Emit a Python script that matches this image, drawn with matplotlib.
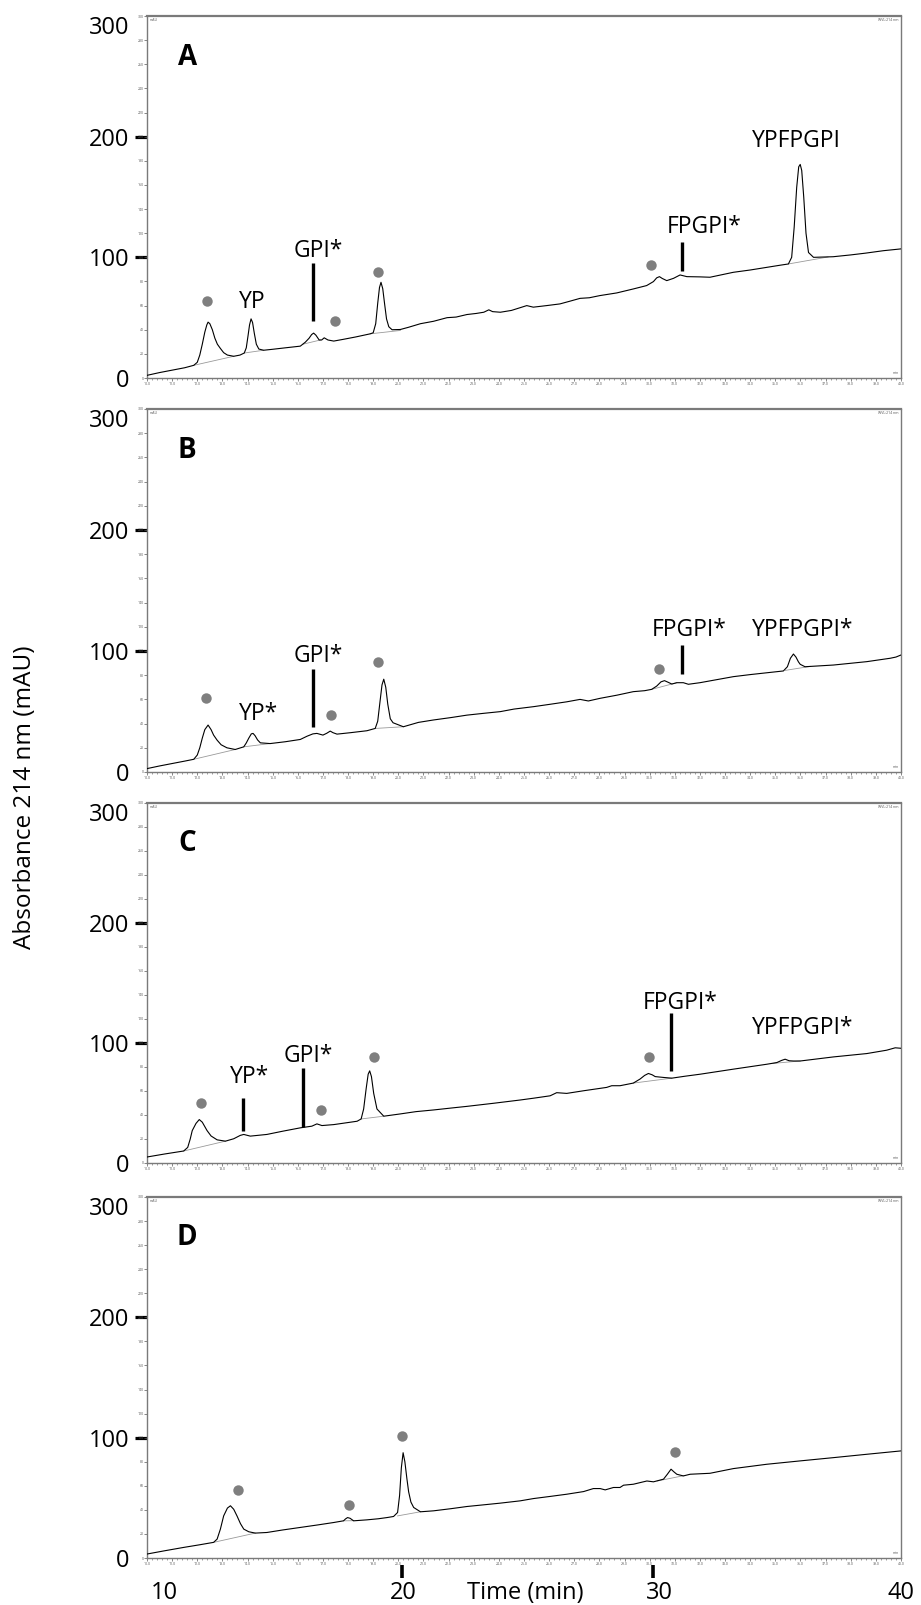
import matplotlib
matplotlib.use("Agg")
import matplotlib.pyplot as plt
from matplotlib.ticker import MultipleLocator, FuncFormatter

plt.rcParams['font.family'] = ['Open Sans', 'DejaVu Sans']

# ---- panel A trace (time min, absorbance mAU)
a_time = [10.0, 10.5, 11.0, 11.5, 11.86, 12.0, 12.1, 12.2, 12.3, 12.38, 12.43, 12.5, 12.6, 12.7, 12.8,
          12.92, 13.05, 13.2, 13.45, 13.7, 13.87, 13.95, 14.02, 14.08, 14.14, 14.2, 14.27, 14.35, 14.45,
          14.64, 15.0, 15.5, 16.1, 16.3, 16.45, 16.55, 16.63, 16.72, 16.85, 16.95, 17.05, 17.2, 17.43,
          17.8, 18.3, 18.88, 19.0, 19.1, 19.18, 19.25, 19.31, 19.38, 19.45, 19.53, 19.62, 19.75, 20.08,
          20.4, 20.88, 21.4, 21.94, 22.3, 22.73, 23.1, 23.4, 23.6, 23.75, 24.06, 24.5, 25.11, 25.37,
          25.9, 26.43, 26.8, 27.23, 27.6, 28.02, 28.69, 29.35, 29.88, 30.15, 30.28, 30.39, 30.5, 30.68,
          30.95, 31.21, 31.48, 32.0, 32.4, 33.33, 34.0, 34.66, 35.2, 35.52, 35.65, 35.75, 35.85, 35.93,
          35.99, 36.05, 36.13, 36.22, 36.32, 36.52, 37.3, 38.0, 38.6, 39.3, 40.0]
a_abs = [2.2, 4.5, 6.5, 8.5, 10.5, 13, 19, 28, 38, 44, 46.3, 45, 40, 33, 28,
         24.5, 21, 19, 18, 19, 20.7, 25, 35, 44, 49, 46, 37, 28, 24,
         23, 23.8, 25, 26.4, 29.7, 33, 36, 37.2, 35.5, 31.5, 31.5, 33.3, 31.5, 30.6,
         32, 34, 36.6, 37.5, 45, 62, 75, 79.3, 74, 62, 49, 42.5, 40, 40.2,
         42, 45, 47, 50, 50.5, 52.6, 53.5, 54.5, 56.5, 55, 54.5, 56, 60, 58.7,
         60, 61.4, 63.5, 66, 66.5, 68.3, 70.5, 73.8, 76.6, 79.9, 83, 84, 82.5, 80.7,
         82.6, 85.4, 84, 83.8, 83.5, 87.6, 89.5, 91.7, 93.5, 94.5, 100, 125, 158, 175,
         177, 172, 150, 120, 104, 100, 100.5, 102, 103.5, 105.5, 107]

# ---- panel B trace
b_time = [10.0, 10.5, 11.0, 11.5, 11.86, 12.0, 12.1, 12.2, 12.3, 12.43, 12.55, 12.65, 12.79, 12.95,
          13.18, 13.51, 13.85, 13.95, 14.05, 14.15, 14.22, 14.3, 14.4, 14.51, 14.9, 15.5, 16.1, 16.37,
          16.6, 16.76, 17.0, 17.15, 17.29, 17.4, 17.56, 18.1, 18.75, 19.08, 19.18, 19.27, 19.35, 19.42,
          19.5, 19.58, 19.68, 19.79, 20.2, 20.8, 21.4, 22.1, 22.73, 23.4, 24.06, 24.6, 25.38, 26.05,
          26.7, 27.23, 27.56, 28.03, 28.7, 29.35, 29.8, 30.08, 30.28, 30.45, 30.59, 30.75, 30.88, 31.08,
          31.34, 31.54, 32.0, 33.33, 34.0, 34.66, 35.32, 35.48, 35.6, 35.72, 35.82, 35.92, 35.99, 36.18,
          37.31, 38.64, 39.57, 39.8, 40.0]
b_abs = [2.8, 5, 7, 9, 10.5, 14, 20, 28, 35, 38.8, 35, 30.5, 26.3, 22.5,
         20, 18.6, 20.8, 24, 28, 31.5, 31.9, 30, 26.5, 24.1, 23.5, 25, 26.9, 29.6,
         31.5, 31.9, 30.5, 32, 33.8, 32.5, 31.3, 32.5, 34.1, 36, 42, 58, 72, 76.7,
         70, 56, 44, 40.7, 37.4, 41, 43, 45, 47, 48.5, 49.9, 52, 54, 56,
         58, 60, 58.7, 60.9, 63.5, 66.4, 67.2, 68.3, 71, 74.5, 75.5, 74, 72.7, 73.8,
         73.8, 72.5, 73.8, 78.8, 80.5, 82, 83.5, 87, 94, 97.5, 95, 91, 89, 87,
         88.4, 91.2, 94, 95, 96.7]

# ---- panel C trace
c_time = [10.0, 10.7, 11.46, 11.62, 11.72, 11.8, 11.95, 12.08, 12.2, 12.39, 12.55, 12.79, 13.12, 13.45,
          13.71, 13.85, 14.11, 14.77, 15.4, 16.1, 16.56, 16.76, 16.96, 17.43, 18.36, 18.52, 18.62, 18.72,
          18.8, 18.86, 18.93, 19.02, 19.15, 19.42, 20.08, 20.7, 21.4, 22.1, 22.73, 23.8, 24.85, 25.38,
          26.04, 26.3, 26.7, 27.37, 28.29, 28.49, 28.82, 29.35, 29.62, 29.8, 29.95, 30.1, 30.22, 30.55,
          30.88, 31.4, 32.01, 33.33, 34.66, 35.06, 35.25, 35.39, 35.55, 35.72, 35.99, 37.31, 38.64, 39.43,
          39.77, 40.0]
c_abs = [5, 7.5, 10, 13, 20, 27, 33, 36.2, 34, 27, 22.5, 19.3, 18.2, 20.2,
         23, 23.8, 22.4, 23.8, 26.5, 29.3, 30.7, 32.6, 31.2, 32, 34.8, 36.7, 45, 62,
         74, 76.8, 72, 58, 45, 39, 40.9, 42.8, 44.2, 45.8, 47.2, 49.8, 52.5, 54,
         56, 58.6, 58, 60.2, 63, 64.4, 64.4, 66.6, 70, 73, 74.6, 73.5, 72, 71.3,
         70.7, 72.3, 74, 78.2, 82.3, 83.7, 85.5, 86.5, 85.2, 85, 85, 88.4, 91.2, 94,
         96, 95.6]

# ---- panel D trace
d_time = [10.0, 10.7, 11.46, 12.1, 12.65, 12.79, 12.92, 13.05, 13.2, 13.32, 13.45, 13.58, 13.72, 13.85,
          14.05, 14.31, 14.77, 15.4, 16.1, 16.8, 17.43, 17.82, 17.9, 17.98, 18.08, 18.22, 18.75, 19.2,
          19.55, 19.81, 19.97, 20.05, 20.12, 20.19, 20.26, 20.34, 20.41, 20.5, 20.61, 20.88, 21.4, 22.1,
          22.73, 23.4, 24.06, 24.85, 25.38, 26.05, 26.7, 27.37, 27.76, 28.03, 28.23, 28.56, 28.82, 28.96,
          29.35, 29.89, 30.15, 30.55, 30.7, 30.85, 30.97, 31.08, 31.34, 31.61, 32.4, 33.33, 34.66, 35.99,
          37.31, 38.64, 40.0]
d_abs = [3.3, 6, 8.8, 11, 13, 15.7, 24, 35, 41.5, 43.4, 40.5, 35, 28.5, 24,
         21.8, 20.7, 21.2, 23.3, 25.4, 27.5, 29.5, 30.9, 32.5, 33.6, 33, 30.9, 31.7, 32.6,
         33.6, 34.5, 37.8, 52, 75, 87.5, 80, 66, 55, 46.5, 42, 38.4, 39.2, 41,
         42.8, 44.2, 45.6, 47.5, 49.4, 51.2, 53, 55.2, 57.7, 57.7, 56.6, 58.6, 58.6, 60.5,
         61.3, 64, 63.3, 65.5, 69.5, 73.8, 71.5, 69.6, 68.2, 69.6, 70.4, 74.3, 77.9, 80.7,
         83.4, 86.2, 89]

# integration baselines (t0, v0, t1, v1)
a_base = [(11.86, 10.5, 13.45, 18), (13.87, 20.7, 14.64, 23), (16.2, 28, 16.9, 31.5),
          (18.88, 36.6, 20.08, 39.4), (35.52, 94.5, 37.1, 100.3)]
b_base = [(11.86, 10.5, 13.51, 18.6), (13.85, 20.8, 14.9, 23.5), (19.08, 36, 20.2, 37.4),
          (30.08, 68.3, 31.08, 73.8), (35.4, 84, 36.4, 87.3)]
c_base = [(11.46, 10, 13.12, 18.2), (18.52, 36.7, 19.42, 39), (29.35, 66.6, 30.88, 70.7),
          (34.9, 83, 35.99, 85)]
d_base = [(12.65, 13, 14.31, 20.7), (17.82, 30.9, 18.22, 31), (19.97, 35, 20.88, 38.4),
          (30.3, 64, 31.4, 68.6)]

# grey dot markers
a_dot_t = [12.39, 17.49, 19.18, 30.05]
a_dot_v = [63.4, 47.4, 88, 94]
b_dot_t = [12.36, 17.32, 19.19, 30.39]
b_dot_v = [61.5, 47, 91, 84.8]
c_dot_t = [12.15, 16.92, 19.05, 29.98]
c_dot_v = [49.7, 44.5, 88.4, 88.4]
d_dot_t = [13.62, 18.02, 20.15, 30.99]
d_dot_v = [56.4, 43.9, 101, 88]

# peak labels
a_labels = ["YP", "GPI*", "FPGPI*", "YPFPGPI"]
a_label_t = [14.18, 16.82, 32.18, 35.85]
a_label_v = [62.8, 105.5, 124.8, 196.4]
b_labels = ["YP*", "GPI*", "FPGPI*", "YPFPGPI*"]
b_label_t = [14.44, 16.83, 31.58, 36.09]
b_label_v = [47.6, 96, 117.4, 117.4]
c_labels = ["YP*", "GPI*", "FPGPI*", "YPFPGPI*"]
c_label_t = [14.08, 16.43, 31.21, 36.09]
c_label_v = [71.3, 89.2, 133.4, 112.7]
d_labels = []
d_label_t = []
d_label_v = []

# vertical marker bars
a_bar_t = [16.6, 31.28]
a_bar_lo = [47, 88.4]
a_bar_hi = [95, 112.4]
b_bar_t = [16.6, 31.28]
b_bar_lo = [37, 81]
b_bar_hi = [85, 105]
c_bar_t = [13.82, 16.2, 30.85]
c_bar_lo = [27, 29.8, 76.8]
c_bar_hi = [54, 79, 125]
d_bar_t = []
d_bar_lo = []
d_bar_hi = []

panel_letters = ["A", "B", "C", "D"]
y_ticks = [0, 100, 200, 300]
bottom_labels = ["10", "20", "Time (min)", "30", "40"]
bottom_label_t = [10.7, 20.19, 25.06, 30.39, 40.0]
bottom_tick_t = [20.15, 30.15]

W, H = 921, 1605
fig = plt.figure(figsize=(W / 100, H / 100), dpi=100)

panel_px = [(16, 378), (409, 772), (803, 1163), (1197, 1558)]
left_px, right_px = 147, 901

panels = [
    (a_time, a_abs, a_base, a_dot_t, a_dot_v, a_labels, a_label_t, a_label_v, a_bar_t, a_bar_lo, a_bar_hi),
    (b_time, b_abs, b_base, b_dot_t, b_dot_v, b_labels, b_label_t, b_label_v, b_bar_t, b_bar_lo, b_bar_hi),
    (c_time, c_abs, c_base, c_dot_t, c_dot_v, c_labels, c_label_t, c_label_v, c_bar_t, c_bar_lo, c_bar_hi),
    (d_time, d_abs, d_base, d_dot_t, d_dot_v, d_labels, d_label_t, d_label_v, d_bar_t, d_bar_lo, d_bar_hi),
]

frame_col = '#7a7a7a'
axes = []
for i, (top, bot) in enumerate(panel_px):
    (t, v, base, dt, dv, labs, lt, lv, bt, blo, bhi) = panels[i]
    ax = fig.add_axes([left_px / W, 1 - bot / H, (right_px - left_px) / W, (bot - top) / H])
    axes.append(ax)

    for (t0, v0, t1, v1) in base:
        ax.plot([t0, t1], [v0, v1], color='#9a9a9a', lw=0.6, zorder=2)
    ax.plot(t, v, color='black', lw=0.8, zorder=3)
    ax.plot(dt, dv, 'o', color='#7f7f7f', markersize=7.5, markeredgewidth=0, zorder=4)
    for s, x, y in zip(labs, lt, lv):
        ax.text(x, y, s, ha='center', va='center', fontsize=16.5)
    for x, lo, hi in zip(bt, blo, bhi):
        ax.plot([x, x], [lo, hi], color='black', lw=2.4, solid_capstyle='butt')
    ax.text(11.6, 266, panel_letters[i], ha='center', va='center', fontsize=20, fontweight='bold')

    ax.set_xlim(10, 40)
    ax.set_ylim(0, 300)

    # big y labels with bold dashes at 100 and 200
    ax.yaxis.remove_overlapping_locs = False
    ax.set_yticks(y_ticks, labels=[str(y) for y in y_ticks])
    ax.tick_params(axis='y', which='major', length=8.5, width=2.3, color='black',
                   labelsize=17, pad=4, direction='out')
    for tk, yv in zip(ax.yaxis.get_major_ticks(), y_ticks):
        if yv in (0, 300):
            tk.tick1line.set_visible(False)
        if yv == 300:
            tk.label1.set_va('top')
    ax.yaxis.set_minor_locator(MultipleLocator(20))
    ax.yaxis.set_minor_formatter(FuncFormatter(lambda val, pos: f"{val:.0f}"))
    ax.tick_params(axis='y', which='minor', length=2, width=0.5, color='#555555',
                   labelsize=2.5, labelcolor='#555555', pad=0.5)

    # tiny instrument-style x ticks
    ax.xaxis.set_major_locator(MultipleLocator(1))
    ax.xaxis.set_major_formatter(FuncFormatter(lambda val, pos: f"{val:.1f}"))
    ax.xaxis.set_minor_locator(MultipleLocator(0.2))
    ax.tick_params(axis='x', which='major', length=2, width=0.5, color='#555555',
                   labelsize=2.5, labelcolor='#555555', pad=0.8)
    ax.tick_params(axis='x', which='minor', length=1.2, width=0.4, color='#555555')

    for side in ['left', 'right', 'bottom']:
        ax.spines[side].set_color(frame_col)
        ax.spines[side].set_linewidth(1.0)
    ax.spines['top'].set_color(frame_col)
    ax.spines['top'].set_linewidth(1.6)

    ax.text(0.003, 0.995, "mAU", transform=ax.transAxes, fontsize=2.5, color='#555555', va='top')
    ax.text(0.997, 0.995, "WVL:214 nm", transform=ax.transAxes, fontsize=2.5, color='#555555',
            va='top', ha='right')
    ax.text(0.997, 0.008, "min", transform=ax.transAxes, fontsize=2.5, color='#555555',
            va='bottom', ha='right')

axD = axes[-1]
tr = axD.get_xaxis_transform()
for s, x in zip(bottom_labels, bottom_label_t):
    axD.text(x, -0.097, s, transform=tr, ha='center', va='center', fontsize=17)
for x in bottom_tick_t:
    axD.plot([x, x], [-0.02, -0.055], transform=tr, clip_on=False, color='black', lw=2.6,
             solid_capstyle='butt')

fig.text(25 / W, 1 - 797 / H, "Absorbance 214 nm (mAU)", rotation=90, ha='center', va='center',
         fontsize=17.5)

fig.savefig("out.png", dpi=100)
